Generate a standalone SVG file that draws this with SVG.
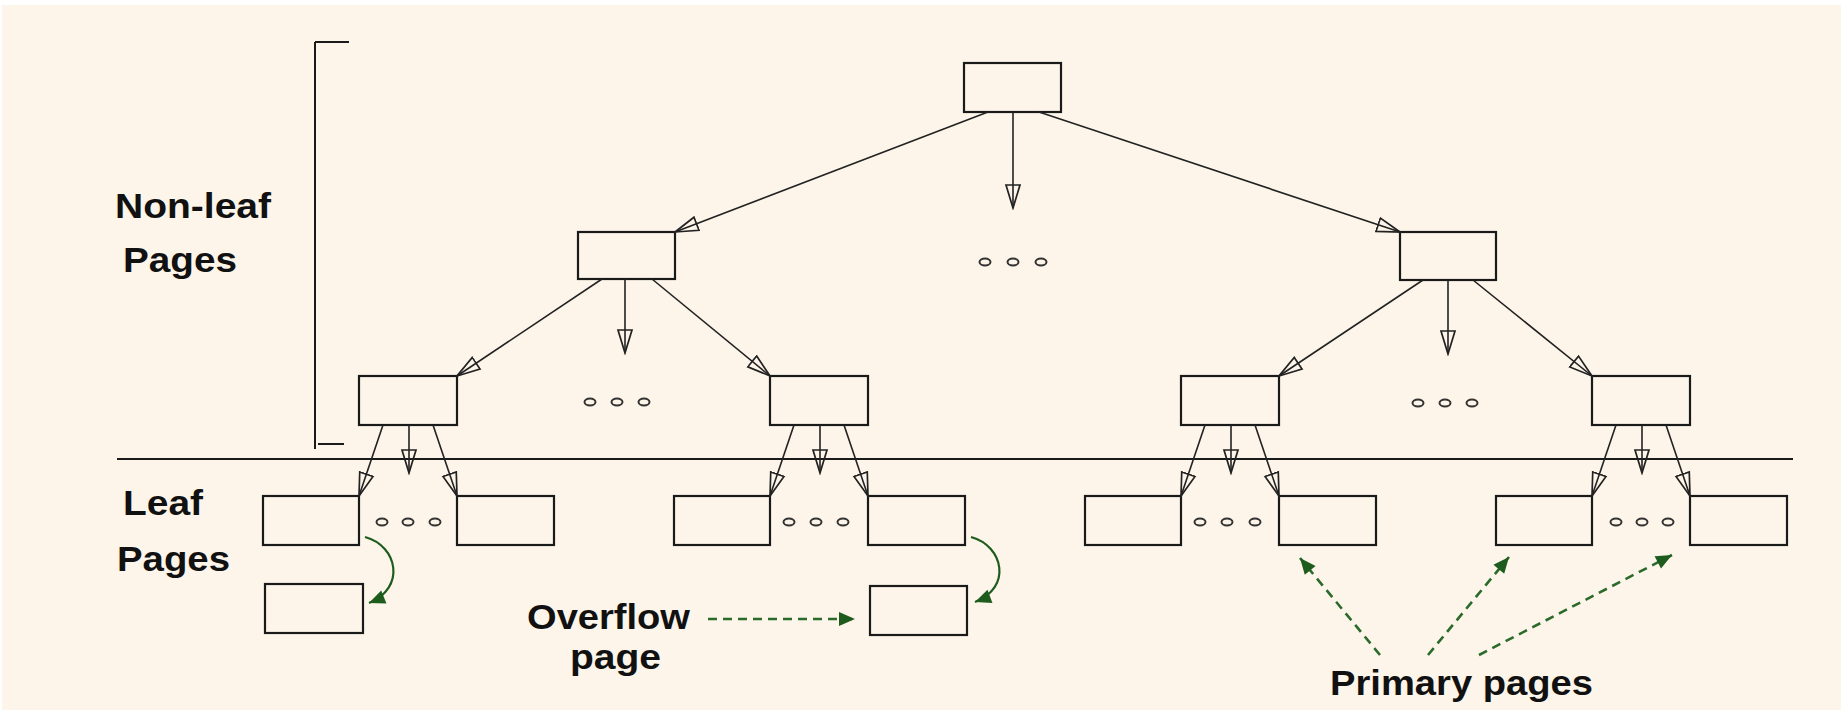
<svg xmlns="http://www.w3.org/2000/svg" width="1841" height="710" viewBox="0 0 1841 710">
<style>
.bg{fill:#FDF5E9}
.box{fill:none;stroke:#1a1a1a;stroke-width:2.2}
.edge{stroke:#222;stroke-width:1.6;fill:none;marker-end:url(#open)}
.rule{stroke:#1a1a1a;stroke-width:2;fill:none}
.dot{fill:none;stroke:#333;stroke-width:2}
.lbl{font-family:"Liberation Sans",Arial,sans-serif;font-weight:bold;font-size:35px;fill:#111}
.green{stroke:#1e5c1e;stroke-width:2.2;fill:none;marker-end:url(#solid)}
.dash{stroke:#2a6a2a;stroke-width:2.6;fill:none;stroke-dasharray:9 6;marker-end:url(#solid)}
</style>
<defs>
<marker id="open" markerUnits="userSpaceOnUse" markerWidth="26" markerHeight="18" viewBox="-24 -9 26 18" refX="0" refY="0" orient="auto">
<path d="M0,0 L-23,-7 L-23,7 Z" fill="none" stroke="#222" stroke-width="1.7"/>
</marker>
<marker id="solid" markerUnits="userSpaceOnUse" markerWidth="20" markerHeight="18" viewBox="-18 -9 20 18" refX="0" refY="0" orient="auto">
<path d="M0,0 L-16,-7 L-16,7 Z" fill="#1e5c1e"/>
</marker>
</defs>
<rect width="1841" height="710" fill="#ffffff"/>
<rect class="bg" x="2" y="5" width="1839" height="705"/>

<g id="bracket">
<line class="rule" x1="315" y1="42" x2="315" y2="449"/>
<line class="rule" x1="315" y1="42" x2="349" y2="42"/>
<line class="rule" x1="318" y1="444" x2="344" y2="444"/>
</g>
<line id="divider" class="rule" x1="117" y1="459" x2="1793" y2="459"/>

<g id="labels">
<text class="lbl" x="115" y="218" textLength="156" lengthAdjust="spacingAndGlyphs">Non-leaf</text>
<text class="lbl" x="123" y="272" textLength="114" lengthAdjust="spacingAndGlyphs">Pages</text>
<text class="lbl" x="123" y="515" textLength="80" lengthAdjust="spacingAndGlyphs">Leaf</text>
<text class="lbl" x="117" y="571" textLength="113" lengthAdjust="spacingAndGlyphs">Pages</text>
<text class="lbl" x="527" y="629" textLength="163" lengthAdjust="spacingAndGlyphs">Overflow</text>
<text class="lbl" x="570" y="669" textLength="91" lengthAdjust="spacingAndGlyphs">page</text>
<text class="lbl" x="1330" y="695" textLength="263" lengthAdjust="spacingAndGlyphs">Primary pages</text>
</g>

<g id="root"><rect class="box" x="964" y="63" width="97" height="49"/></g>
<g id="n2a"><rect class="box" x="578" y="232" width="97" height="47"/></g>
<g id="n2b"><rect class="box" x="1400" y="232" width="96" height="48"/></g>
<g id="n3a"><rect class="box" x="359" y="376" width="98" height="49"/></g>
<g id="n3b"><rect class="box" x="770" y="376" width="98" height="49"/></g>
<g id="n3c"><rect class="box" x="1181" y="376" width="98" height="49"/></g>
<g id="n3d"><rect class="box" x="1592" y="376" width="98" height="49"/></g>
<g id="leaf1"><rect class="box" x="263" y="496" width="96" height="49"/></g>
<g id="leaf2"><rect class="box" x="457" y="496" width="97" height="49"/></g>
<g id="leaf3"><rect class="box" x="674" y="496" width="96" height="49"/></g>
<g id="leaf4"><rect class="box" x="868" y="496" width="97" height="49"/></g>
<g id="leaf5"><rect class="box" x="1085" y="496" width="96" height="49"/></g>
<g id="leaf6"><rect class="box" x="1279" y="496" width="97" height="49"/></g>
<g id="leaf7"><rect class="box" x="1496" y="496" width="96" height="49"/></g>
<g id="leaf8"><rect class="box" x="1690" y="496" width="97" height="49"/></g>
<g id="ovf1"><rect class="box" x="265" y="584" width="98" height="49"/></g>
<g id="ovf2"><rect class="box" x="870" y="586" width="97" height="49"/></g>

<g id="dots">
<ellipse class="dot" cx="985" cy="262" rx="5.5" ry="3.5"/><ellipse class="dot" cx="1013" cy="262" rx="5.5" ry="3.5"/><ellipse class="dot" cx="1041" cy="262" rx="5.5" ry="3.5"/>
<ellipse class="dot" cx="590" cy="402" rx="5.5" ry="3.5"/><ellipse class="dot" cx="617" cy="402" rx="5.5" ry="3.5"/><ellipse class="dot" cx="644" cy="402" rx="5.5" ry="3.5"/>
<ellipse class="dot" cx="1418" cy="403" rx="5.5" ry="3.5"/><ellipse class="dot" cx="1445" cy="403" rx="5.5" ry="3.5"/><ellipse class="dot" cx="1472" cy="403" rx="5.5" ry="3.5"/>
<ellipse class="dot" cx="382" cy="522" rx="5.5" ry="3.5"/><ellipse class="dot" cx="408" cy="522" rx="5.5" ry="3.5"/><ellipse class="dot" cx="435" cy="522" rx="5.5" ry="3.5"/>
<ellipse class="dot" cx="789" cy="522" rx="5.5" ry="3.5"/><ellipse class="dot" cx="816" cy="522" rx="5.5" ry="3.5"/><ellipse class="dot" cx="843" cy="522" rx="5.5" ry="3.5"/>
<ellipse class="dot" cx="1200" cy="522" rx="5.5" ry="3.5"/><ellipse class="dot" cx="1227" cy="522" rx="5.5" ry="3.5"/><ellipse class="dot" cx="1255" cy="522" rx="5.5" ry="3.5"/>
<ellipse class="dot" cx="1616" cy="522" rx="5.5" ry="3.5"/><ellipse class="dot" cx="1642" cy="522" rx="5.5" ry="3.5"/><ellipse class="dot" cx="1668" cy="522" rx="5.5" ry="3.5"/>
</g>

<g id="connectors">
<line class="edge" x1="988" y1="112" x2="675" y2="232"/>
<line class="edge" x1="1013" y1="112" x2="1013" y2="208"/>
<line class="edge" x1="1039" y1="112" x2="1400" y2="232"/>
<line class="edge" x1="602" y1="279" x2="457" y2="376"/>
<line class="edge" x1="625" y1="279" x2="625" y2="353"/>
<line class="edge" x1="652" y1="279" x2="770" y2="376"/>
<line class="edge" x1="1423" y1="280" x2="1279" y2="376"/>
<line class="edge" x1="1448" y1="280" x2="1448" y2="354"/>
<line class="edge" x1="1473" y1="280" x2="1592" y2="376"/>
<line class="edge" x1="383" y1="425" x2="359" y2="496"/>
<line class="edge" x1="409" y1="425" x2="409" y2="473"/>
<line class="edge" x1="433" y1="425" x2="457" y2="496"/>
<line class="edge" x1="794" y1="425" x2="770" y2="496"/>
<line class="edge" x1="820" y1="425" x2="820" y2="473"/>
<line class="edge" x1="844" y1="425" x2="868" y2="496"/>
<line class="edge" x1="1205" y1="425" x2="1181" y2="496"/>
<line class="edge" x1="1231" y1="425" x2="1231" y2="473"/>
<line class="edge" x1="1255" y1="425" x2="1279" y2="496"/>
<line class="edge" x1="1616" y1="425" x2="1592" y2="496"/>
<line class="edge" x1="1642" y1="425" x2="1642" y2="473"/>
<line class="edge" x1="1666" y1="425" x2="1690" y2="496"/>
<path class="green" d="M365,537 C398,546 406,588 369,603"/>
<path class="green" d="M971,537 C1004,546 1012,588 975,602"/>
<line class="dash" x1="708" y1="619" x2="855" y2="619"/>
<line class="dash" x1="1380" y1="655" x2="1300" y2="558"/>
<line class="dash" x1="1428" y1="655" x2="1509" y2="557"/>
<line class="dash" x1="1479" y1="655" x2="1672" y2="555"/>
</g>
</svg>
